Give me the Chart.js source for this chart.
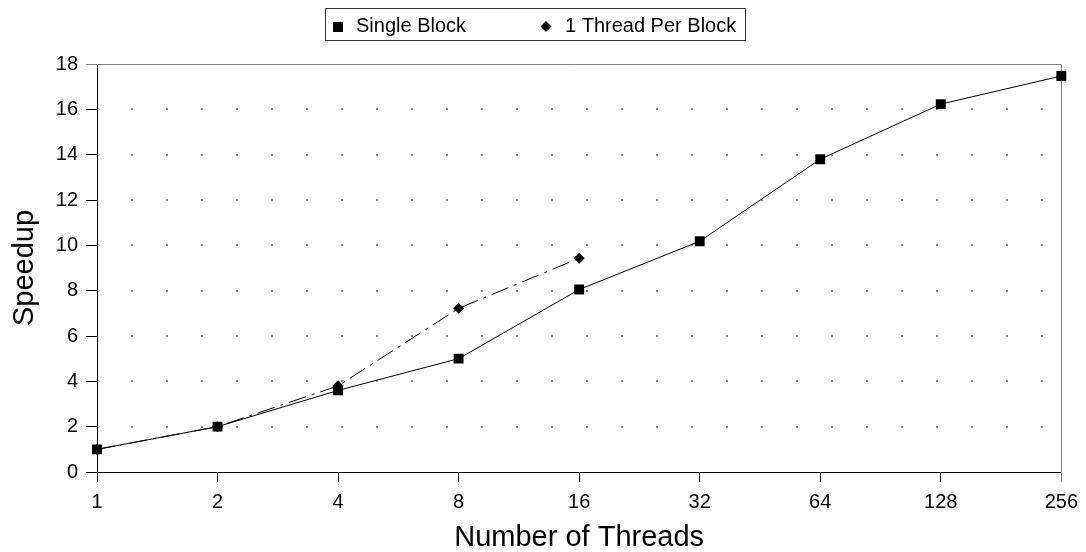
<!DOCTYPE html>
<html>
<head>
<meta charset="utf-8">
<script src="https://cdn.jsdelivr.net/npm/chart.js@4/dist/chart.umd.min.js"></script>
<style>
  html, body { margin: 0; padding: 0; background: #fff; }
  #wrap { width: 1086px; height: 552px; position: relative; }
</style>
</head>
<body>
<div id="wrap"><canvas id="c"></canvas></div>
<script>
const threadLabels = ['1', '2', '4', '8', '16', '32', '64', '128', '256'];
const singleBlock = [1.0, 2.0, 3.6, 5.0, 8.05, 10.18, 13.8, 16.23, 17.47];
const oneThreadPerBlock = [1.0, 2.0, 3.8, 7.22, 9.43];
const yTicks = [0, 2, 4, 6, 8, 10, 12, 14, 16, 18];
const seriesNames = ['Single Block', '1 Thread Per Block'];

const FONT = '"Liberation Sans", Arial, sans-serif';

const decorPlugin = {
  id: 'decor',
  beforeDatasetsDraw(chart) {
    const ctx = chart.ctx;
    const a = chart.chartArea;
    const ys = chart.scales.y;
    ctx.save();
    ctx.fillStyle = '#8a8a8a';
    yTicks.forEach(v => {
      if (v === 0 || v === 18) return;
      const py = Math.round(ys.getPixelForValue(v));
      for (let x = a.left + 35; x < a.right - 5; x += 35) {
        ctx.fillRect(Math.round(x) - 1, py - 1, 2, 2);
      }
    });
    // top and right frame
    ctx.strokeStyle = '#808080';
    ctx.lineWidth = 1;
    ctx.beginPath();
    ctx.moveTo(a.left - 11, Math.round(a.top) + 0.5);
    ctx.lineTo(Math.round(a.right) + 0.5, Math.round(a.top) + 0.5);
    ctx.lineTo(Math.round(a.right) + 0.5, a.bottom + 10);
    ctx.stroke();
    ctx.restore();
  },
  afterDraw(chart) {
    const ctx = chart.ctx;
    ctx.save();
    // legend box
    ctx.strokeStyle = '#333';
    ctx.lineWidth = 1;
    ctx.strokeRect(325.5, 8.5, 420, 32);
    ctx.fillStyle = '#000';
    // square marker
    ctx.fillRect(333, 22, 10, 10);
    // diamond marker
    ctx.beginPath();
    ctx.moveTo(546, 21);
    ctx.lineTo(551.5, 26.5);
    ctx.lineTo(546, 32);
    ctx.lineTo(540.5, 26.5);
    ctx.closePath();
    ctx.fill();
    ctx.font = '20px ' + FONT;
    ctx.textBaseline = 'middle';
    ctx.textAlign = 'left';
    ctx.fillText(seriesNames[0], 356, 26);
    ctx.fillText(seriesNames[1], 565, 26);
    ctx.restore();
  }
};

new Chart(document.getElementById('c'), {
  type: 'line',
  data: {
    labels: threadLabels,
    datasets: [
      {
        label: seriesNames[0],
        data: singleBlock,
        borderColor: '#000',
        backgroundColor: '#000',
        borderWidth: 1,
        pointStyle: 'rect',
        pointRadius: 7,
        pointHoverRadius: 7,
        pointBorderWidth: 0,
        tension: 0,
        fill: false
      },
      {
        label: seriesNames[1],
        data: oneThreadPerBlock,
        borderColor: '#000',
        backgroundColor: '#000',
        borderWidth: 1,
        borderDash: [18, 6, 3, 6],
        pointStyle: 'rectRot',
        pointRadius: 5.5,
        pointHoverRadius: 5.5,
        pointBorderWidth: 0,
        tension: 0,
        fill: false
      }
    ]
  },
  options: {
    responsive: true,
    maintainAspectRatio: false,
    animation: false,
    devicePixelRatio: 1,
    layout: { padding: { top: 64, right: 23, left: 0, bottom: 0 } },
    plugins: {
      legend: { display: false },
      tooltip: { enabled: false },
      title: { display: false }
    },
    scales: {
      x: {
        type: 'category',
        offset: false,
        grid: {
          drawOnChartArea: false,
          drawTicks: true,
          tickLength: 10,
          tickColor: ctx => (ctx.index === threadLabels.length - 1 ? '#808080' : '#000'),
          color: '#000'
        },
        border: { color: '#000', width: 1 },
        ticks: {
          color: '#000',
          font: { family: FONT, size: 20 },
          padding: 8,
          maxRotation: 0,
          autoSkip: false
        },
        title: {
          display: true,
          text: 'Number of Threads',
          color: '#000',
          font: { family: FONT, size: 29, lineHeight: 1.0 },
          padding: { top: 0, bottom: 0 }
        },
        afterFit(scale) { scale.height = 80; }
      },
      y: {
        min: 0,
        max: 18,
        afterBuildTicks(scale) { scale.ticks = yTicks.map(v => ({ value: v })); },
        grid: {
          drawOnChartArea: false,
          drawTicks: true,
          tickLength: 11,
          tickColor: ctx => (ctx.tick && ctx.tick.value === 18 ? '#808080' : '#000'),
          color: '#000'
        },
        border: { color: '#000', width: 1 },
        ticks: {
          color: '#000',
          font: { family: FONT, size: 20 },
          padding: 8
        },
        title: {
          display: true,
          text: 'Speedup',
          color: '#000',
          font: { family: FONT, size: 29, lineHeight: 1.0 },
          padding: { top: 10, bottom: 0 }
        },
        afterFit(scale) { scale.width = 97; }
      }
    }
  },
  plugins: [decorPlugin]
});
</script>
</body>
</html>
